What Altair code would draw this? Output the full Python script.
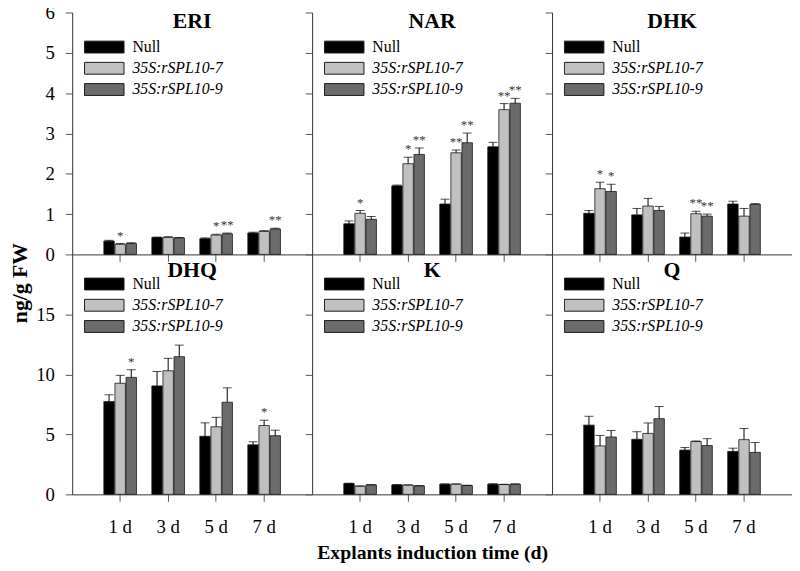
import altair as alt
import pandas as pd

days = ["1 d", "3 d", "5 d", "7 d"]
series = ["Null", "35S:rSPL10-7", "35S:rSPL10-9"]
bar_colors = ["#000000", "#c0c0c0", "#6b6b6b"]
x_title = "Explants induction time (d)"
y_title = "ng/g FW"

# mean values: one list per series (Null, rSPL10-7, rSPL10-9), ordered by day
eri_mean = [[0.33, 0.42, 0.39, 0.53], [0.25, 0.42, 0.48, 0.57], [0.27, 0.41, 0.51, 0.63]]
eri_err = [[0.02, 0.01, 0.02, 0.02], [0.02, 0.02, 0.02, 0.02], [0.02, 0.01, 0.02, 0.02]]
eri_sig = [["", "", "", ""], ["*", "", "*", ""], ["", "", "**", "**"]]

nar_mean = [[0.76, 1.70, 1.25, 2.67], [1.02, 2.25, 2.52, 3.59], [0.87, 2.48, 2.77, 3.75]]
nar_err = [[0.07, 0.02, 0.12, 0.11], [0.07, 0.16, 0.07, 0.15], [0.07, 0.16, 0.24, 0.12]]
nar_sig = [["", "", "", ""], ["*", "*", "**", "**"], ["", "**", "**", "**"]]

dhk_mean = [[1.02, 0.98, 0.43, 1.25], [1.63, 1.20, 1.01, 0.95], [1.56, 1.09, 0.95, 1.24]]
dhk_err = [[0.07, 0.16, 0.10, 0.07], [0.16, 0.19, 0.06, 0.19], [0.18, 0.10, 0.05, 0.02]]
dhk_sig = [["", "", "", ""], ["*", "", "**", ""], ["*", "", "**", ""]]

dhq_mean = [[7.73, 9.04, 4.84, 4.13], [9.26, 10.30, 5.63, 5.74], [9.75, 11.48, 7.68, 4.89]]
dhq_err = [[0.57, 1.20, 1.12, 0.25], [0.66, 1.04, 0.79, 0.44], [0.63, 0.96, 1.20, 0.46]]
dhq_sig = [["", "", "", ""], ["", "", "", "*"], ["*", "", "", ""]]

k_mean = [[0.90, 0.79, 0.85, 0.85], [0.68, 0.77, 0.85, 0.82], [0.79, 0.71, 0.74, 0.85]]
k_err = [[0.03, 0.02, 0.02, 0.03], [0.02, 0.02, 0.02, 0.02], [0.02, 0.02, 0.02, 0.02]]
k_sig = [["", "", "", ""], ["", "", "", ""], ["", "", "", ""]]

q_mean = [[5.77, 4.59, 3.69, 3.58], [4.04, 5.08, 4.40, 4.56], [4.78, 6.31, 4.07, 3.50]]
q_err = [[0.74, 0.63, 0.22, 0.27], [0.87, 0.87, 0.05, 0.93], [0.55, 1.01, 0.57, 0.82]]
q_sig = [["", "", "", ""], ["", "", "", ""], ["", "", "", ""]]

panels = [
    ("ERI", eri_mean, eri_err, eri_sig, 0, 0),
    ("NAR", nar_mean, nar_err, nar_sig, 0, 1),
    ("DHK", dhk_mean, dhk_err, dhk_sig, 0, 2),
    ("DHQ", dhq_mean, dhq_err, dhq_sig, 1, 0),
    ("K", k_mean, k_err, k_sig, 1, 1),
    ("Q", q_mean, q_err, q_sig, 1, 2),
]

FONT = "Liberation Serif"
W = 243


def make_panel(name, mean, err, sig, row, col):
    recs = []
    for si, s in enumerate(series):
        for di, d in enumerate(days):
            recs.append({
                "day": d, "series": s,
                "value": mean[si][di],
                "top": mean[si][di] + err[si][di],
                "sig": sig[si][di],
            })
    df = pd.DataFrame(recs)
    H = 245 if row == 0 else 243
    ymax = 6 if row == 0 else 20
    yvals = [0, 1, 2, 3, 4, 5, 6] if row == 0 else [0, 5, 10, 15]

    x_axis = alt.Axis(
        labels=(row == 1),
        title=(x_title if (row == 1 and col == 1) else None),
        labelAngle=0, labelPadding=17, tickSize=7,
        titleFont=FONT, titleFontSize=20, titleFontWeight="bold",
        titlePadding=6, titleColor="black",
    )
    y_axis = alt.Axis(
        values=yvals, labels=(col == 0), title=None, grid=False,
        tickSize=7, labelPadding=11,
    )
    xenc = lambda: alt.X("day:N", sort=days, axis=x_axis,
                         scale=alt.Scale(domain=days, paddingInner=0.32, paddingOuter=0.66))
    xoff = lambda: alt.XOffset("series:N", sort=series,
                               scale=alt.Scale(domain=series, paddingInner=0.06))
    yscale = alt.Scale(domain=[0, ymax], nice=False, zero=True)

    base = alt.Chart(df)
    bars = base.mark_bar(stroke="#1a1a1a", strokeWidth=0.8).encode(
        x=xenc(), xOffset=xoff(),
        y=alt.Y("value:Q", scale=yscale, axis=y_axis),
        color=alt.Color(
            "series:N", sort=series,
            scale=alt.Scale(domain=series, range=bar_colors),
            legend=alt.Legend(
                orient="none", legendX=12, legendY=(27 if row == 0 else 22),
                title=None, direction="vertical",
                symbolType="M-1,-0.3L1,-0.3L1,0.3L-1,0.3Z", symbolSize=1600,
                symbolStrokeColor="#1a1a1a", symbolStrokeWidth=1, symbolOpacity=1,
                labelFont=FONT, labelFontSize=16, labelColor="black",
                labelFontStyle={"expr": "datum.label == 'Null' ? 'normal' : 'italic'"},
                labelOffset=8, clipHeight=16, rowPadding=5.5, padding=0,
                labelLimit=200,
            ),
        ),
    )
    rules = base.mark_rule(color="black", strokeWidth=1).encode(
        x=xenc(), xOffset=xoff(),
        y=alt.Y("value:Q", scale=yscale, axis=y_axis),
        y2="top:Q",
    )
    caps = base.mark_tick(color="black", thickness=1, size=9, orient="horizontal").encode(
        x=xenc(), xOffset=xoff(),
        y=alt.Y("top:Q", scale=yscale, axis=y_axis),
    )
    stars = base.transform_filter("datum.sig != ''").mark_text(
        font=FONT, fontSize=13, color="#333333", baseline="alphabetic", dy=-4,
    ).encode(
        x=xenc(), xOffset=xoff(),
        y=alt.Y("top:Q", scale=yscale, axis=y_axis),
        text="sig:N",
    )
    title = alt.Chart(pd.DataFrame({"t": [name]})).mark_text(
        font=FONT, fontSize=22, fontWeight="bold", color="black", baseline="middle",
    ).encode(text="t:N", x=alt.value(W / 2), y=alt.value(9 if row == 0 else 16))

    return alt.layer(bars, rules, caps, stars, title).properties(width=W, height=H)


charts = [make_panel(*p) for p in panels]

chart = alt.concat(*charts, columns=3, spacing=0, bounds="flush").resolve_scale(
    color="independent", x="independent", y="independent"
).properties(
    title=alt.TitleParams(y_title, orient="left", anchor="middle", font=FONT,
                          fontSize=22, fontWeight="bold", color="black", offset=4),
    padding={"left": 0, "top": -8, "right": 0, "bottom": 0},
).configure_view(stroke=None).configure_axis(
    labelFont=FONT, labelFontSize=19, labelColor="black",
    domainColor="#333", domainWidth=1, tickColor="#555", tickWidth=1,
)

chart.save("out.html", embed_options={"renderer": "svg", "actions": False})
